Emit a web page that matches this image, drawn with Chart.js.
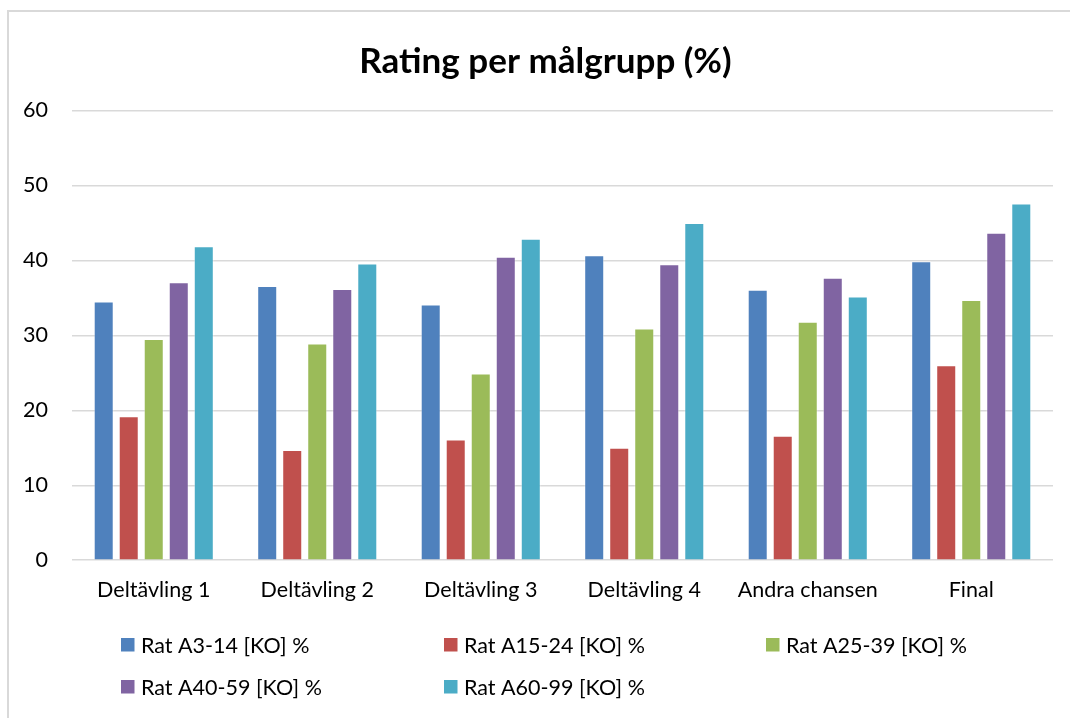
<!DOCTYPE html>
<html>
<head>
<meta charset="utf-8">
<script src="https://cdn.jsdelivr.net/npm/chart.js@4"></script>
<style>
  html, body { margin: 0; padding: 0; background: #fff; }
  #wrap { position: relative; width: 1070px; height: 718px; overflow: hidden; }
  #frame { position: absolute; left: 7px; top: 10px; width: 1100px; height: 800px;
           border-left: 2px solid #d9d9d9; border-top: 2px solid #d9d9d9; }
  #chart { position: absolute; left: 0; top: 0; }
</style>
</head>
<body>
<div id="wrap">
  <div id="frame"></div>
  <canvas id="chart" width="1070" height="718"></canvas>
</div>
<script>
// Data
const categories = ['Deltävling 1', 'Deltävling 2', 'Deltävling 3', 'Deltävling 4', 'Andra chansen', 'Final'];
const seriesNames = ['Rat A3-14 [KO] %', 'Rat A15-24 [KO] %', 'Rat A25-39 [KO] %', 'Rat A40-59 [KO] %', 'Rat A60-99 [KO] %'];
const a3_14 = [34.5, 36.6, 34.1, 40.7, 36.1, 39.9];
const a15_24 = [19.2, 14.7, 16.1, 15.0, 16.6, 26.0];
const a25_39 = [29.5, 28.9, 24.9, 30.9, 31.8, 34.7];
const a40_59 = [37.1, 36.2, 40.5, 39.5, 37.7, 43.7];
const a60_99 = [41.9, 39.6, 42.9, 45.0, 35.2, 47.6];
const yTicks = [0, 10, 20, 30, 40, 50, 60];
const titleText = 'Rating per målgrupp (%)';

const colors = ['#4F81BD', '#C0504D', '#9BBB59', '#8064A2', '#4BACC6'];
const FONT = 'Lato, "Open Sans", sans-serif';
const TXT = 21.5;

const datasets = [a3_14, a15_24, a25_39, a40_59, a60_99].map((d, i) => ({
    label: seriesNames[i],
    data: d,
    backgroundColor: colors[i],
    borderColor: 'rgba(255,255,255,0.35)',
    borderWidth: 1,
    barPercentage: 0.8,
    categoryPercentage: 0.765
}));

// title (centred on the whole frame, not the plot) and a 3 column legend grid
const chartDecor = {
    id: 'chartDecor',
    afterDraw(chart) {
        const ctx = chart.ctx;
        ctx.save();
        ctx.fillStyle = '#000';
        ctx.textAlign = 'center';
        ctx.textBaseline = 'middle';
        ctx.font = 'bold 35px ' + FONT;
        ctx.fillText(titleText, 545.5, 62);

        const colX = [121, 444, 766];
        const rowY = [645, 687];
        ctx.font = TXT + 'px ' + FONT;
        ctx.textAlign = 'left';
        chart.data.datasets.forEach((ds, i) => {
            const x = colX[i % 3];
            const y = rowY[Math.floor(i / 3)];
            ctx.fillStyle = ds.backgroundColor;
            ctx.fillRect(x, y - 7, 13.5, 13.5);
            ctx.fillStyle = '#000';
            ctx.fillText(ds.label, x + 20, y + 1);
        });
        ctx.restore();
    }
};

new Chart(document.getElementById('chart').getContext('2d'), {
    type: 'bar',
    data: { labels: categories, datasets: datasets },
    options: {
        responsive: false,
        animation: false,
        layout: { padding: { top: 110.5, right: 17, bottom: 98, left: 0 } },
        plugins: {
            legend: { display: false },
            tooltip: { enabled: false },
            title: { display: false }
        },
        scales: {
            x: {
                grid: { display: false, drawTicks: false },
                border: { display: false },
                ticks: { color: '#000', padding: 17, font: { family: FONT, size: TXT } }
            },
            y: {
                min: 0,
                max: 60,
                afterBuildTicks(scale) { scale.ticks = yTicks.map(v => ({ value: v })); },
                afterFit(scale) { scale.width = 72; },
                grid: { color: '#d9d9d9', lineWidth: 1.5, drawTicks: false },
                border: { display: false },
                ticks: { color: '#000', padding: 24, font: { family: FONT, size: TXT } }
            }
        }
    },
    plugins: [chartDecor]
});
</script>
</body>
</html>
